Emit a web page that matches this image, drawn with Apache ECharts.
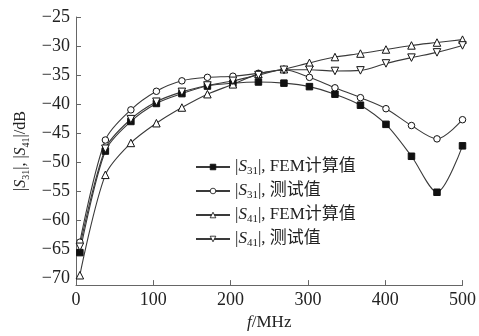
<!DOCTYPE html>
<html>
<head>
<meta charset="utf-8">
<script src="https://cdn.jsdelivr.net/npm/echarts@6/dist/echarts.min.js"></script>
<style>html,body{margin:0;padding:0;background:#fff}#c{width:479px;height:336px}</style>
</head>
<body>
<div id="c"></div>
<script>
const freq = [5, 38, 71, 104, 137, 170, 203, 236, 269, 302, 335, 368, 401, 434, 467, 500];
const s31Fem = [-65.6, -48.1, -43.0, -39.9, -38.2, -36.9, -36.4, -36.2, -36.4, -37.0, -38.3, -40.2, -43.5, -49.0, -55.2, -47.2];
const s31Meas = [-63.8, -46.2, -41.0, -37.8, -36.0, -35.4, -35.2, -34.7, -34.1, -35.4, -37.2, -38.9, -40.8, -43.7, -46.0, -42.7];
const s41Fem = [-69.5, -52.2, -46.7, -43.3, -40.6, -38.3, -36.6, -34.8, -34.0, -32.9, -31.9, -31.3, -30.6, -29.9, -29.4, -28.9];
const s41Meas = [-64.6, -47.7, -42.6, -39.6, -37.9, -36.8, -36.0, -35.0, -34.1, -34.1, -34.3, -34.2, -33.0, -32.0, -31.1, -29.9];
const yTicks = [-70, -65, -60, -55, -50, -45, -40, -35, -30, -25];
const xTicks = [0, 100, 200, 300, 400, 500];
const legendNames = ['S31 FEM', 'S31 meas', 'S41 FEM', 'S41 meas'];
const legendTexts = ['|{i|S}{sub|31}|, FEM计算值', '|{i|S}{sub|31}|, 测试值', '|{i|S}{sub|41}|, FEM计算值', '|{i|S}{sub|41}|, 测试值'];

const FONT = '"Liberation Serif", "Noto Sans CJK SC", serif';
function richFor(sz) {
  return {
    i: { fontStyle: 'italic', fontFamily: FONT, fontSize: sz, color: '#222', lineHeight: 20, verticalAlign: 'middle' },
    sub: { fontFamily: FONT, fontSize: Math.round(sz * 0.62), color: '#222', lineHeight: 20, verticalAlign: 'bottom' }
  };
}

function mk(name, data, symbol, size, fill) {
  return {
    name: name, type: 'line', smooth: 0.3,
    data: freq.map((f, k) => [f, data[k]]),
    symbol: symbol, symbolSize: size, showSymbol: true,
    lineStyle: { color: '#3a3a3a', width: 1.1 },
    itemStyle: { color: fill, borderColor: '#111', borderWidth: 1 },
    emphasis: { disabled: true }, z: 3
  };
}

const chart = echarts.init(document.getElementById('c'), null, { renderer: 'canvas' });
chart.setOption({
  animation: false,
  backgroundColor: '#fff',
  textStyle: { fontFamily: FONT },
  grid: { left: 76, right: 15, top: 17, bottom: 48 },
  legend: {
    orient: 'vertical', left: 190, top: 152, itemGap: 4, itemWidth: 34, itemHeight: 7,
    data: legendNames,
    itemStyle: { borderWidth: 0.8 },
    formatter: name => legendTexts[legendNames.indexOf(name)],
    textStyle: { fontFamily: FONT, fontSize: 17, color: '#222', lineHeight: 20, rich: richFor(17) }
  },
  xAxis: {
    type: 'value', min: 0, max: 500, interval: 100,
    name: '{i|f}/MHz', nameLocation: 'middle', nameGap: 28,
    nameTextStyle: { fontFamily: FONT, fontSize: 17, color: '#222', rich: { i: { fontStyle: 'italic', fontFamily: FONT, fontSize: 17, color: '#222' } } },
    axisLine: { lineStyle: { color: '#666', width: 1 } },
    axisTick: { inside: true, length: 5, lineStyle: { color: '#666' } },
    axisLabel: { fontFamily: FONT, fontSize: 18, color: '#222', margin: 6, customValues: xTicks },
    splitLine: { show: false }
  },
  yAxis: {
    type: 'value', min: -71.2, max: -25,
    name: '|{i|S}{sub|31}|, |{i|S}{sub|41}|/dB', nameLocation: 'middle', nameGap: 43,
    nameTextStyle: { fontFamily: FONT, fontSize: 16, color: '#222', lineHeight: 20, rich: richFor(16) },
    axisLine: { show: true, lineStyle: { color: '#666', width: 1 } },
    axisTick: { show: true, inside: true, length: 5, lineStyle: { color: '#666' }, customValues: yTicks },
    axisLabel: { fontFamily: FONT, fontSize: 18, color: '#222', margin: 6, customValues: yTicks, formatter: v => String(v).replace('-', '\u2212') },
    splitLine: { show: false }
  },
  series: [
    mk('S31 FEM', s31Fem, 'rect', 6.5, '#111'),
    mk('S31 meas', s31Meas, 'circle', 6.5, '#fff'),
    mk('S41 FEM', s41Fem, 'triangle', 7.5, '#fff'),
    mk('S41 meas', s41Meas, 'path://M0,0 L10,0 L5,9 Z', 7.5, '#fff')
  ]
});
</script>
</body>
</html>
